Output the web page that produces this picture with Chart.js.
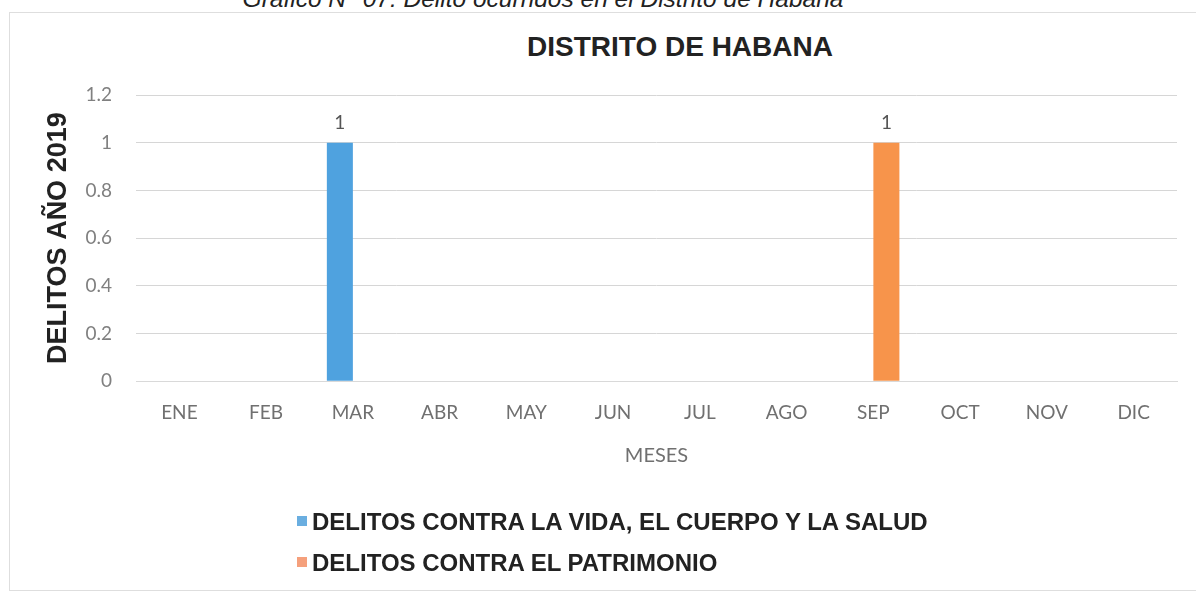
<!DOCTYPE html>
<html lang="es">
<head>
  <meta charset="UTF-8" />
  <title>Distrito de Habana</title>
  <style>
    body {
      margin: 0;
      background: #fff;
      font-family: 'Liberation Sans', Arial, sans-serif;
    }
    .page {
      position: relative;
      width: 1196px;
      height: 592px;
      overflow: hidden;
    }
    .caption {
      position: absolute;
      top: -15px;
      left: 0;
      width: 1086px;
      text-align: center;
      font-style: italic;
      font-size: 24.5px;
      color: #222;
    }
    .frame {
      position: absolute;
      left: 9px;
      top: 12px;
      width: 1195px;
      height: 579px;
      border: 1px solid #dedede;
      box-sizing: border-box;
    }
    .title {
      position: absolute;
      top: 30px;
      left: 380px;
      width: 600px;
      text-align: center;
      font-weight: bold;
      font-size: 28px;
      line-height: 34px;
      color: #222;
    }
    canvas {
      position: absolute;
      left: 0;
      top: 0;
    }
    .legend {
      position: absolute;
      left: 297px;
      top: 507px;
      font-weight: bold;
      font-size: 24px;
      color: #222;
    }
    .legend div {
      height: 41px;
      line-height: 30px;
    }
    .legend span.box {
      display: inline-block;
      width: 10px;
      height: 10px;
      margin-right: 5px;
      vertical-align: 4px;
    }
  </style>
</head>
<body>
<div class="page">
  <div class="caption">Gráfico N° 07: Delito ocurridos en el Distrito de Habana</div>
  <div class="frame"></div>
  <div class="title">DISTRITO DE HABANA</div>
  <canvas id="chart" width="1196" height="592"></canvas>
  <div class="legend" id="legend"></div>
</div>

<script src="https://cdn.jsdelivr.net/npm/chart.js"></script>
<script>
  // months and yearly offences per category
  const meses = ['ENE', 'FEB', 'MAR', 'ABR', 'MAY', 'JUN', 'JUL', 'AGO', 'SEP', 'OCT', 'NOV', 'DIC'];
  const vidaCuerpoSalud = [0, 0, 1, 0, 0, 0, 0, 0, 0, 0, 0, 0];
  const patrimonio = [0, 0, 0, 0, 0, 0, 0, 0, 1, 0, 0, 0];
  const seriesNames = ['DELITOS CONTRA LA VIDA, EL CUERPO Y LA SALUD', 'DELITOS CONTRA EL PATRIMONIO'];
  const seriesColors = ['#4fa2df', '#f7944b'];
  const legendColors = ['#6aaee0', '#f5a07c'];

  const labelFont = 'Lato, "Open Sans", sans-serif';
  const boldFont = "'Liberation Sans', Arial, sans-serif";

  // value labels above non-zero bars
  const valueLabels = {
    id: 'valueLabels',
    afterDatasetsDraw(chart) {
      const ctx = chart.ctx;
      ctx.save();
      ctx.font = '19px ' + labelFont;
      ctx.fillStyle = '#555';
      ctx.textAlign = 'center';
      ctx.textBaseline = 'middle';
      chart.data.datasets.forEach((ds, i) => {
        chart.getDatasetMeta(i).data.forEach((bar, j) => {
          if (ds.data[j] > 0) ctx.fillText(String(ds.data[j]), bar.x, bar.y - 20);
        });
      });
      ctx.restore();
    }
  };

  const ctx = document.getElementById('chart').getContext('2d');
  new Chart(ctx, {
    type: 'bar',
    data: {
      labels: meses,
      datasets: [
        { label: seriesNames[0], data: vidaCuerpoSalud, backgroundColor: seriesColors[0] },
        { label: seriesNames[1], data: patrimonio, backgroundColor: seriesColors[1] }
      ]
    },
    options: {
      responsive: false,
      animation: false,
      categoryPercentage: 0.6,
      barPercentage: 1.0,
      layout: { padding: { left: 42, right: 19, top: 95, bottom: 124 } },
      plugins: {
        legend: { display: false },
        tooltip: { enabled: false }
      },
      scales: {
        x: {
          grid: { display: false, drawTicks: false },
          border: { color: '#d9d9d9' },
          ticks: { color: '#707070', font: { family: labelFont, size: 19 }, padding: 20 },
          title: {
            display: true,
            text: 'MESES',
            color: '#707070',
            font: { family: labelFont, size: 20 },
            padding: { top: 0, bottom: 0 }
          }
        },
        y: {
          min: 0,
          max: 1.2,
          afterFit: (scale) => { scale.width = 94; },
          ticks: {
            stepSize: 0.2,
            color: '#808080',
            font: { family: labelFont, size: 19 },
            padding: 24,
            callback: (v) => String(Number(v.toFixed(1)))
          },
          grid: { color: '#d6d6d6', drawTicks: false },
          border: { display: false },
          title: {
            display: true,
            text: 'DELITOS AÑO 2019',
            color: '#222',
            font: { family: boldFont, size: 27, weight: 'bold' },
            padding: { top: 0, bottom: 0 }
          }
        }
      }
    },
    plugins: [valueLabels]
  });

  // legend, one series per row
  const legend = document.getElementById('legend');
  seriesNames.forEach((name, i) => {
    const row = document.createElement('div');
    row.innerHTML = '<span class="box" style="background:' + legendColors[i] + '"></span>' + name;
    legend.appendChild(row);
  });
</script>
</body>
</html>
